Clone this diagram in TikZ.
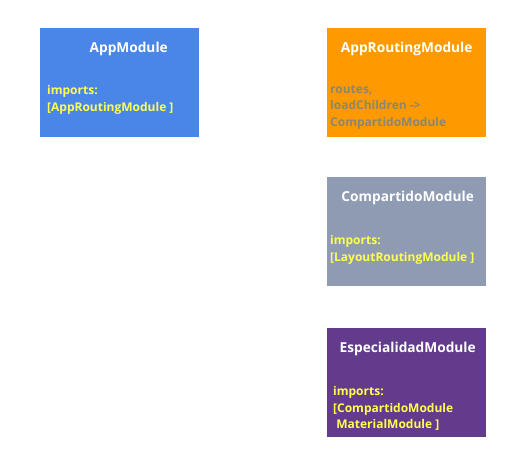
\documentclass[tikz,border=0pt]{standalone}
\usepackage{fontspec}
\setmainfont{Open Sans}[BoldFont={* Bold}]
\usepackage{tikz}
\usetikzlibrary{positioning}

\definecolor{appblue}{HTML}{4A86E8}
\definecolor{routeorange}{HTML}{FF9900}
\definecolor{sharedgray}{HTML}{8E9BB2}
\definecolor{specpurple}{HTML}{623B8C}
\definecolor{importyellow}{HTML}{FFFF4F}
\definecolor{routetext}{HTML}{8C8670}

\begin{document}
\begin{tikzpicture}[
  x=1pt, y=-1pt,
  module/.style={rectangle, minimum width=159pt, minimum height=109pt, inner sep=0pt, anchor=north west},
  modtitle/.style={font=\fontsize{13.7}{16}\selectfont\bfseries, text=white, inner sep=0pt, anchor=north},
  modbody/.style={font=\fontsize{12}{16.8}\selectfont\bfseries, text=importyellow, inner sep=0pt, anchor=north west, align=left}
]
\useasboundingbox (0,0) rectangle (528,473);

% Module boxes
\node[module, fill=appblue] (app) at (40,28) {};
\node[module, fill=routeorange] (routing) at (327,28) {};
\node[module, fill=sharedgray] (shared) at (327,177) {};
\node[module, fill=specpurple] (spec) at (327,328) {};

% Titles
\node[modtitle, below=14pt of app.north, xshift=9pt] (apptitle) {AppModule};
\node[modtitle, below=14pt of routing.north] (routingtitle) {AppRoutingModule};
\node[modtitle, below=13.5pt of shared.north, xshift=1pt] (sharedtitle) {CompartidoModule};
\node[modtitle, below=14pt of spec.north, xshift=1pt] (spectitle) {EspecialidadModule};

% Contents
\node[modbody] (appbody) at ([xshift=7pt, yshift=-57pt]app.north west) {imports:\\{[}AppRoutingModule {]}};
\node[modbody, text=routetext] (routingbody) at ([xshift=3pt, yshift=-57pt]routing.north west) {routes,\\loadChildren ->\\CompartidoModule};
\node[modbody] (sharedbody) at ([xshift=3pt, yshift=-58pt]shared.north west) {imports:\\{[}LayoutRoutingModule {]}};
\node[modbody] (specbody) at ([xshift=6pt, yshift=-58pt]spec.north west) {imports:\\{[}CompartidoModule\\\ MaterialModule {]}};

\end{tikzpicture}
\end{document}
